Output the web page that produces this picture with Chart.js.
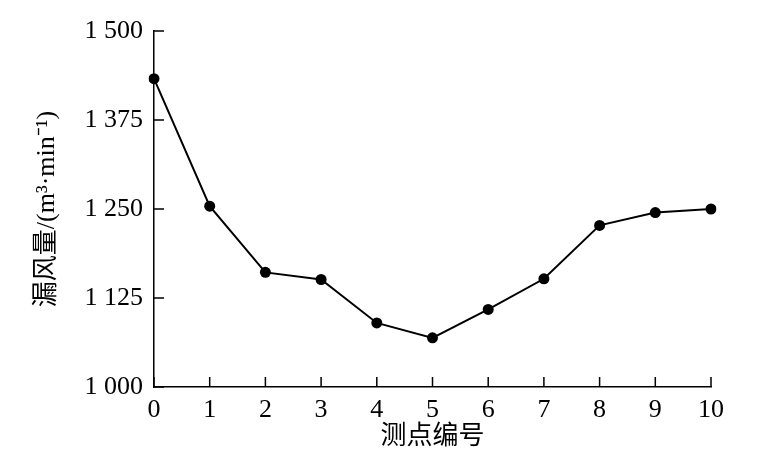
<!DOCTYPE html>
<html>
<head>
<meta charset="utf-8">
<script src="https://cdn.jsdelivr.net/npm/chart.js@4"></script>
<style>
  html, body { margin: 0; padding: 0; background: #fff; }
</style>
</head>
<body>
<canvas id="chart" width="772" height="471"></canvas>
<script>
// data
const points = ['0', '1', '2', '3', '4', '5', '6', '7', '8', '9', '10'];
const leakage = [1433, 1254, 1161, 1151, 1090, 1069, 1109, 1152, 1227, 1245, 1250];
const yTicks = [1000, 1125, 1250, 1375, 1500];

const serif = '"Liberation Serif", "Times New Roman", "Noto Sans CJK SC", serif';

// ticks point into the plot
const innerTicks = {
    id: 'innerTicks',
    afterDraw(chart) {
        const ctx = chart.ctx;
        const x = chart.scales.x, y = chart.scales.y;
        const len = 10;
        ctx.save();
        ctx.strokeStyle = '#000';
        ctx.lineWidth = 1.5;
        ctx.beginPath();
        yTicks.forEach(function(v) {
            let py = y.getPixelForValue(v);
            ctx.moveTo(x.left, py);
            ctx.lineTo(x.left + len, py);
        });
        points.forEach(function(p, i) {
            let px = x.getPixelForValue(i);
            ctx.moveTo(px, y.bottom);
            ctx.lineTo(px, y.bottom - len);
        });
        ctx.stroke();
        ctx.restore();
    }
};

new Chart(document.getElementById('chart'), {
    type: 'line',
    data: {
        labels: points,
        datasets: [{
            data: leakage,
            borderColor: '#000',
            backgroundColor: '#000',
            borderWidth: 2,
            pointRadius: 5.5,
            pointBackgroundColor: '#000',
            pointBorderWidth: 0,
            tension: 0
        }]
    },
    options: {
        responsive: false,
        animation: false,
        layout: { padding: { left: 0, right: 61, top: 31, bottom: 0 } },
        plugins: {
            legend: { display: false },
            tooltip: { enabled: false }
        },
        scales: {
            x: {
                type: 'category',
                offset: false,
                grid: { display: false, drawTicks: false },
                border: { display: true, color: '#000', width: 1.5 },
                ticks: {
                    color: '#000',
                    padding: 8,
                    maxRotation: 0,
                    font: { family: serif, size: 26 }
                },
                title: {
                    display: true,
                    text: '测点编号',
                    color: '#000',
                    font: { family: serif, size: 26 },
                    padding: { top: 0, bottom: 18 }
                },
                afterFit: function(scale) { scale.height = 84; }
            },
            y: {
                min: 1000,
                max: 1500,
                grid: { display: false, drawTicks: false },
                border: { display: true, color: '#000', width: 1.5 },
                afterBuildTicks: function(scale) {
                    scale.ticks = yTicks.map(v => ({ value: v }));
                },
                ticks: {
                    color: '#000',
                    padding: 11,
                    font: { family: serif, size: 26 },
                    callback: function(v) {
                        return String(v).replace(/\B(?=(\d{3})+(?!\d))/g, ' ');
                    }
                },
                title: {
                    display: true,
                    text: '漏风量/(m³·min⁻¹)',
                    color: '#000',
                    font: { family: serif, size: 26 },
                    padding: { top: 32, bottom: 0 }
                },
                afterFit: function(scale) { scale.width = 154; }
            }
        }
    },
    plugins: [innerTicks]
});
</script>
</body>
</html>
